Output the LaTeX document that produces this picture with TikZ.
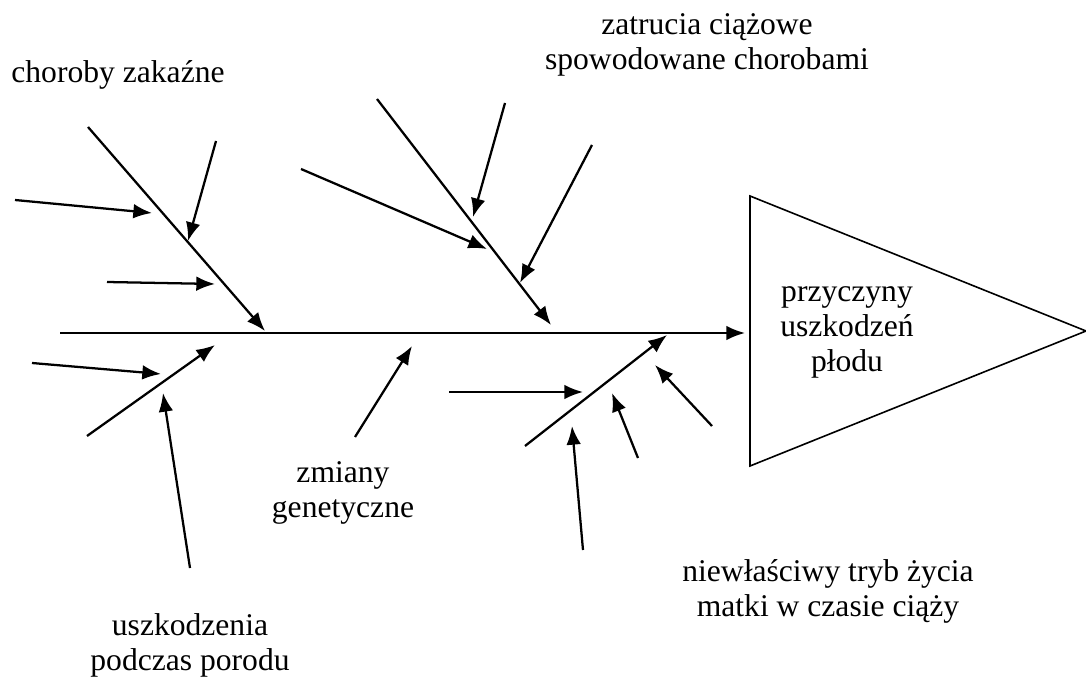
\documentclass[tikz,border=0pt]{standalone}
\usepackage{fontspec}
\setmainfont{Liberation Serif}
\usetikzlibrary{arrows.meta}
\tikzset{
  bone/.style={line width=1.7pt,-{Latex[length=14pt,width=11pt]}},
  labeltext/.style={align=center,inner sep=0pt,anchor=base,
    font=\fontsize{23.7}{26.25}\selectfont},
}
\begin{document}
\begin{tikzpicture}[x=0.75pt,y=-0.75pt]
\useasboundingbox (0,0) rectangle (1086,677);
% head of the fish
\coordinate (ht) at (750,196);
\coordinate (hb) at (750,466);
\coordinate (hr) at (1086,331);
\draw[line width=1.2pt] (ht) -- (hr) -- (hb) -- cycle;
\node[labeltext] (effect) at (847,372) {przyczyny\\uszkodzeń\\płodu};
% spine
\coordinate (tail) at (60,333);
\coordinate (head) at (745,333);
\draw[bone] (tail) -- (head);
% choroby zakazne
\coordinate (a0) at (88,127);
\coordinate (a1) at (265,331);
\draw[bone] (a0) -- (a1);
\coordinate (a2) at (15,200);
\coordinate (a3) at (152,213);
\draw[bone] (a2) -- (a3);
\coordinate (a4) at (216,141);
\coordinate (a5) at (188,241);
\draw[bone] (a4) -- (a5);
\coordinate (a6) at (107,282);
\coordinate (a7) at (215,284);
\draw[bone] (a6) -- (a7);
% uszkodzenia podczas porodu
\coordinate (b0) at (87,436);
\coordinate (b1) at (215,345);
\draw[bone] (b0) -- (b1);
\coordinate (b2) at (32,363);
\coordinate (b3) at (161,374);
\draw[bone] (b2) -- (b3);
\coordinate (b4) at (190,568);
\coordinate (b5) at (163,393);
\draw[bone] (b4) -- (b5);
% zmiany genetyczne
\coordinate (c0) at (355,437);
\coordinate (c1) at (412,346);
\draw[bone] (c0) -- (c1);
% zatrucia ciazowe
\coordinate (d0) at (377,99);
\coordinate (d1) at (551,325);
\draw[bone] (d0) -- (d1);
\coordinate (d2) at (301,169);
\coordinate (d3) at (487,249);
\draw[bone] (d2) -- (d3);
\coordinate (d4) at (505,103);
\coordinate (d5) at (473,217);
\draw[bone] (d4) -- (d5);
\coordinate (d6) at (592,145);
\coordinate (d7) at (520,283);
\draw[bone] (d6) -- (d7);
% niewlasciwy tryb zycia
\coordinate (e0) at (525,446);
\coordinate (e1) at (667,335);
\draw[bone] (e0) -- (e1);
\coordinate (e2) at (449,392);
\coordinate (e3) at (583,392);
\draw[bone] (e2) -- (e3);
\coordinate (e4) at (583,550);
\coordinate (e5) at (572,426);
\draw[bone] (e4) -- (e5);
\coordinate (e6) at (638,458);
\coordinate (e7) at (612,393);
\draw[bone] (e6) -- (e7);
\coordinate (e8) at (712,426);
\coordinate (e9) at (655,365);
\draw[bone] (e8) -- (e9);
% labels
\node[labeltext] (infect) at (118,83) {choroby zakaźne};
\node[labeltext] (toxic) at (707,70) {zatrucia ciążowe\\spowodowane chorobami};
\node[labeltext] (genes) at (343,517) {zmiany\\genetyczne};
\node[labeltext] (birth) at (190,670) {uszkodzenia\\podczas porodu};
\node[labeltext] (life) at (828,616) {niewłaściwy tryb życia\\matki w czasie ciąży};
\end{tikzpicture}
\end{document}
